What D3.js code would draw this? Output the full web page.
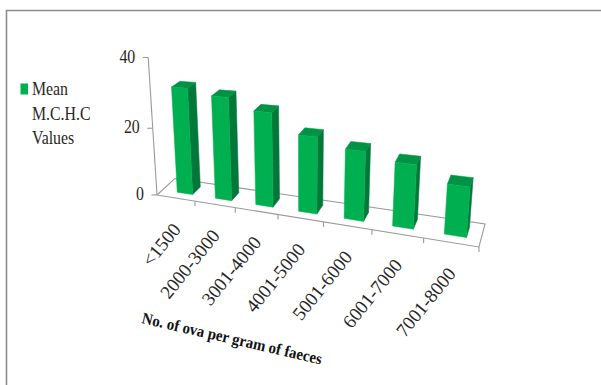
<!DOCTYPE html>
<html>
<head>
<meta charset="utf-8">
<script src="https://cdn.jsdelivr.net/npm/d3@7"></script>
<style>
html, body { margin: 0; padding: 0; background: #fff; }
svg { display: block; }
text { font-family: "Liberation Serif", serif; fill: #262626; }
</style>
</head>
<body>
<svg id="chart" width="601" height="385"></svg>
<script>
// Mean M.C.H.C by faecal egg count, drawn as a 3-D column chart
const categories = ["<1500", "2000-3000", "3001-4000", "4001-5000", "5001-6000", "6001-7000", "7001-8000"];
const mchcValues = [31, 29.4, 26.3, 21, 18.6, 16.7, 12.8];
const valueTicks = [0, 20, 40];
const legendLines = ["Mean", "M.C.H.C", "Values"];
const xTitle = "No. of ova per gram of faeces";

const colors = { front: "#00b050", side: "#00783a", top: "#009245", axis: "#9a9a9a", frame: "#8c8c8c" };

const svg = d3.select("#chart");

// Category position across the floor and column depth, both in unit floor coordinates
const across = d3.scaleBand().domain(categories).range([0.015, 1.005]).paddingInner(0.59).paddingOuter(0.295);
const depth = d3.scaleLinear().domain([0, 1]).range([0.3, 0.75]);
const height = d3.scaleLinear().domain([0, 40]).range([0, 40]);

// Perspective camera: (u across, v into the page, h up) to screen pixels
function project(u, v, h) {
  const w = 1 - 0.197 * u + 0.0423 * v - 0.00142 * h;
  return [
    (157 + 227.6 * u + 25.4 * v - 0.43 * h) / w,
    (195 + 3.3 * u - 9 * v - 3.52 * h) / w
  ];
}

const line = d3.line();

// Chart frame
svg.append("path")
  .attr("d", line([[6.5, 385], [6.5, 10.5], [601, 10.5]]))
  .attr("fill", "none").attr("stroke", colors.frame).attr("stroke-width", 1.6);

// Floor outline and category ticks
const floor = svg.append("g").attr("fill", "none").attr("stroke", colors.axis).attr("stroke-width", 1.1);
floor.append("path").attr("d", line([project(0, 0, 0), project(1, 0, 0), project(1, 1, 0), project(0, 1, 0)]));
floor.append("path").attr("d", line([project(0, 0, 0), project(0, 1, 0)]));
d3.range(1, categories.length + 1).forEach(i => {
  const u = i / categories.length;
  const p = project(u, 0, 0);
  floor.append("path").attr("d", line([p, [p[0], p[1] + 5]]));
});

// Value axis
floor.append("path").attr("d", line([project(0, 0, height(0)), project(0, 0, height(40))]));
valueTicks.forEach(t => {
  const p = project(0, 0, height(t));
  floor.append("path").attr("d", line([p, [p[0] - 5.5, p[1]]]));
  const lx = p[0] - 13;
  svg.append("text")
    .attr("transform", `translate(${lx},${p[1] + 1}) scale(0.88,1)`)
    .attr("text-anchor", "end").attr("dominant-baseline", "middle")
    .attr("font-size", 18)
    .text(t);
});

// Columns drawn left to right; they never overlap one another
const bars = svg.append("g").selectAll("g").data(categories).join("g");
bars.each(function (c, i) {
  const g = d3.select(this);
  const u0 = across(c), u1 = u0 + across.bandwidth();
  const v0 = depth(0), v1 = depth(1);
  const h = height(mchcValues[i]);
  const face = (pts, fill) => g.append("path")
    .attr("d", line(pts) + "Z").attr("fill", fill)
    .attr("stroke", fill).attr("stroke-width", 0.5).attr("stroke-linejoin", "round");
  face([project(u1, v0, 0), project(u1, v1, 0), project(u1, v1, h), project(u1, v0, h)], colors.side);
  face([project(u0, v0, h), project(u1, v0, h), project(u1, v1, h), project(u0, v1, h)], colors.top);
  face([project(u0, v0, 0), project(u1, v0, 0), project(u1, v0, h), project(u0, v0, h)], colors.front);
});

// Category labels, rotated along the floor edge
categories.forEach((c, i) => {
  const p = project((i + 0.5) / categories.length, 0, 0);
  svg.append("text")
    .attr("transform", `translate(${p[0] + 2.5},${p[1] + 29}) rotate(-51)`)
    .attr("text-anchor", "end")
    .attr("dominant-baseline", "middle")
    .attr("font-size", 19)
    .text(c);
});

// Axis title
svg.append("text")
  .attr("transform", "translate(141,323) rotate(13) scale(0.96,1.05)")
  .attr("font-size", 15.5).attr("font-weight", "bold")
  .style("fill", "#111")
  .text(xTitle);

// Legend
svg.append("rect").attr("x", 20.5).attr("y", 83.5).attr("width", 7.5).attr("height", 11).attr("fill", colors.front);
legendLines.forEach((t, i) => {
  svg.append("text")
    .attr("transform", `translate(32,${95 + i * 24.5}) scale(0.88,1)`)
    .attr("font-size", 18)
    .text(t);
});
</script>
</body>
</html>
